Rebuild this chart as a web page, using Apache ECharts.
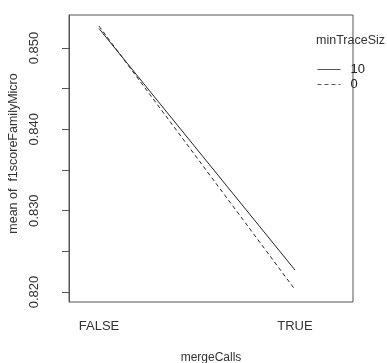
<!DOCTYPE html>
<html><head><meta charset="utf-8">
<script src="https://cdn.jsdelivr.net/npm/echarts@6/dist/echarts.min.js"></script>
<style>html,body{margin:0;padding:0;background:#fff}#c{width:387px;height:363px}</style>
</head><body><div id="c"></div>
<script>
var categories = ['FALSE', 'TRUE'];
var seriesNames = ['10', '0'];
var series10 = [0.8524, 0.8227];
var series0 = [0.8527, 0.8203];
var yTicks = [0.820, 0.825, 0.830, 0.835, 0.840, 0.845, 0.850];
var yLabels = [0.820, 0.830, 0.840, 0.850];

var font = 'Liberation Sans, Arial, sans-serif';
function toXY(arr){ return arr.map(function(v,i){ return [i+1, v]; }); }
var chart = echarts.init(document.getElementById('c'), null, {renderer:'canvas'});
chart.setOption({
  animation:false,
  backgroundColor:'#fff',
  title:{text:'minTraceSiz', left:316, top:34, padding:0, textStyle:{fontFamily:font, fontSize:12.5, fontWeight:'normal', color:'#333'}},
  legend:{orient:'vertical', left:317, top:63, padding:0, itemWidth:23, itemHeight:10, itemGap:2,
    itemStyle:{opacity:0}, lineStyle:{width:1, color:'#555'},
    textStyle:{fontFamily:font, fontSize:13, color:'#222', padding:[0,0,0,5]},
    data:[seriesNames[0], seriesNames[1]]},
  grid:{left:69, right:34, top:15, bottom:61, outerBoundsMode:'none', containLabel:false, show:true, borderColor:'#555', borderWidth:1},
  xAxis:{type:'value', min:0.847, max:2.296,
    name:'mergeCalls', nameLocation:'middle', nameGap:50,
    nameTextStyle:{fontFamily:font, fontSize:12, color:'#333'},
    axisLine:{show:false}, axisTick:{show:false}, splitLine:{show:false},
    axisLabel:{customValues:[1,2], margin:18, fontFamily:font, fontSize:13, color:'#333',
      formatter:function(v){ return categories[Math.round(v)-1] || ''; }}},
  yAxis:{type:'value', min:0.81877, max:0.85406,
    name:'mean of  f1scoreFamilyMicro', nameLocation:'middle', nameGap:45, nameRotate:90,
    nameTextStyle:{fontFamily:font, fontSize:12.5, color:'#333', padding:[0,0,0,10]},
    axisLine:{show:true, lineStyle:{color:'#555'}}, splitLine:{show:false},
    axisTick:{show:true, customValues:yTicks, length:7, lineStyle:{color:'#555'}},
    axisLabel:{customValues:yLabels, rotate:90, margin:28, fontFamily:font, fontSize:13, color:'#333',
      formatter:function(v){ return v.toFixed(3); }}},
  series:[
    {name:seriesNames[0], type:'line', data:toXY(series10), symbol:'none', lineStyle:{color:'#222', width:1, type:'solid'}, itemStyle:{color:'#222'}},
    {name:seriesNames[1], type:'line', data:toXY(series0), symbol:'none', lineStyle:{color:'#222', width:1, type:[4,3]}, itemStyle:{color:'#222'}}
  ]
});
</script></body></html>
